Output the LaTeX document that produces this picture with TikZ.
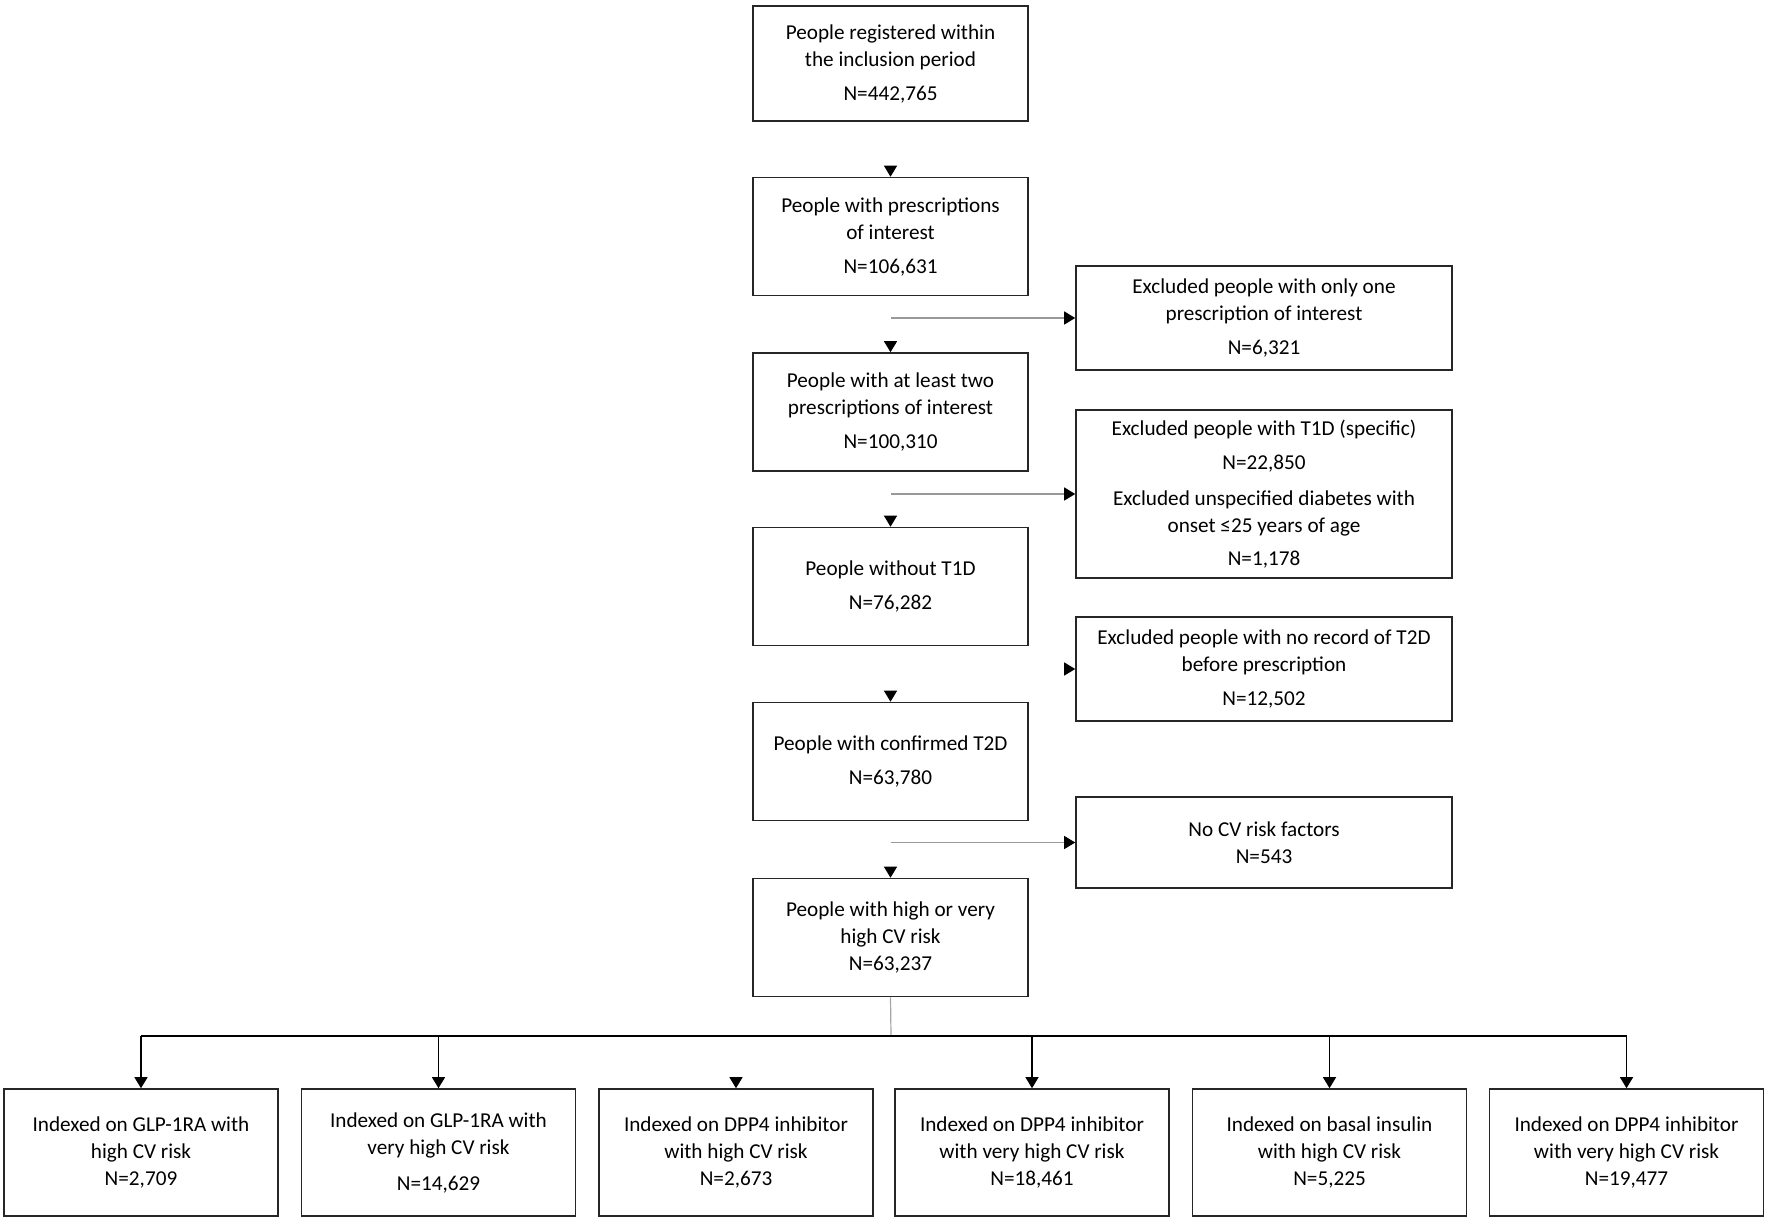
\documentclass[tikz,border=0pt]{standalone}
\usepackage{fontspec}
\setmainfont{Carlito}
\usetikzlibrary{arrows.meta}
\begin{document}
\begin{tikzpicture}[x=0.5pt,y=-0.5pt,
  box/.style={draw=black!85, line width=0.8pt, fill=white, align=center, inner sep=0pt,
    font=\fontsize{10.6}{13.5}\selectfont},
  mainbox/.style={box, minimum width=137.5pt, minimum height=59pt},
  exbox/.style={box, minimum width=188pt},
  endbox/.style={box, minimum width=137pt, minimum height=63.5pt},
  tip/.style={draw=black, line width=0.6pt, -{Triangle[length=5.5pt,width=6.5pt]}},
  ghost/.style={draw=white, line width=0.6pt, shorten <=1.2pt, -{Triangle[length=5.5pt,width=6.5pt,color=black]}},
  exarrow/.style={draw=black!40, line width=0.6pt, -{Triangle[length=5.5pt,width=6.5pt,color=black]}},
  stem/.style={draw=black!35, line width=0.6pt},
  busline/.style={draw=black, line width=0.7pt}
]
\useasboundingbox (0,0) rectangle (1770,1221);
\fill[white] (0,0) rectangle (1770,1221);

% main column
\node[mainbox, minimum height=57.5pt] (b1) at (890.5,63.5) {People registered within\\ the inclusion period\\[3.5pt] N=442,765};
\node[mainbox] (b2) at (890.5,236.5) {People with prescriptions\\ of interest\\[3.5pt] N=106,631};
\node[mainbox] (b3) at (890.5,412) {People with at least two\\ prescriptions of interest\\[3.5pt] N=100,310};
\node[mainbox] (b4) at (890.5,586.5) {People without T1D\\[3.5pt] N=76,282};
\node[mainbox] (b5) at (890.5,761.5) {People with confirmed T2D\\[3.5pt] N=63,780};
\node[mainbox] (b6) at (890.5,937.5) {People with high or very\\ high CV risk\\ N=63,237};

% exclusion boxes
\node[exbox, minimum height=52pt] (e1) at (1264,318) {Excluded people with only one\\ prescription of interest\\[3.5pt] N=6,321};
\node[exbox, minimum height=84pt] (e2) at (1264,494) {Excluded people with T1D (specific)\\[3.5pt] N=22,850\\[4.5pt] Excluded unspecified diabetes with\\ onset ≤25 years of age\\[3pt] N=1,178};
\node[exbox, minimum height=52pt] (e3) at (1264,669) {Excluded people with no record of T2D\\ before prescription\\[3.5pt] N=12,502};
\node[exbox, minimum height=45.5pt] (e4) at (1264,842.5) {No CV risk factors\\ N=543};

% end boxes
\node[endbox] (o1) at (141,1152.5) {Indexed on GLP-1RA with\\ high CV risk\\ N=2,709};
\node[endbox] (o2) at (438.5,1152.5) {Indexed on GLP-1RA with\\ very high CV risk\\[4.5pt] N=14,629};
\node[endbox] (o3) at (736,1152.5) {Indexed on DPP4 inhibitor\\ with high CV risk\\ N=2,673};
\node[endbox] (o4) at (1032,1152.5) {Indexed on DPP4 inhibitor\\ with very high CV risk\\ N=18,461};
\node[endbox] (o5) at (1329.5,1152.5) {Indexed on basal insulin\\ with high CV risk\\ N=5,225};
\node[endbox] (o6) at (1626.5,1152.5) {Indexed on DPP4 inhibitor\\ with very high CV risk\\ N=19,477};

% main vertical connectors (only arrowheads visible)
\draw[ghost] (b1.south) -- (b2.north);
\draw[ghost] (b2.south) -- (b3.north);
\draw[ghost] (b3.south) -- (b4.north);
\draw[ghost] (b4.south) -- (b5.north);
\draw[ghost] (b5.south) -- (b6.north);

% exclusion connectors
\draw[exarrow] (b2.center |- e1.west) -- (e1.west);
\draw[exarrow] (b3.center |- e2.west) -- (e2.west);
\draw[ghost]   (b4.center |- e3.west) -- (e3.west);
\draw[exarrow] (b5.center |- e4.west) -- (e4.west);

% split to end boxes
\coordinate (bus) at (891,1036);
\draw[ghost] (o3.north |- bus) -- (o3.north);
\draw[stem] (b6.south) -- (bus);
\draw[busline] (o1.north |- bus) -- (o6.north |- bus);
\draw[tip] (o1.north |- bus) -- (o1.north);
\draw[tip] (o2.north |- bus) -- (o2.north);
\draw[tip] (o4.north |- bus) -- (o4.north);
\draw[tip] (o5.north |- bus) -- (o5.north);
\draw[tip] (o6.north |- bus) -- (o6.north);
\end{tikzpicture}
\end{document}
